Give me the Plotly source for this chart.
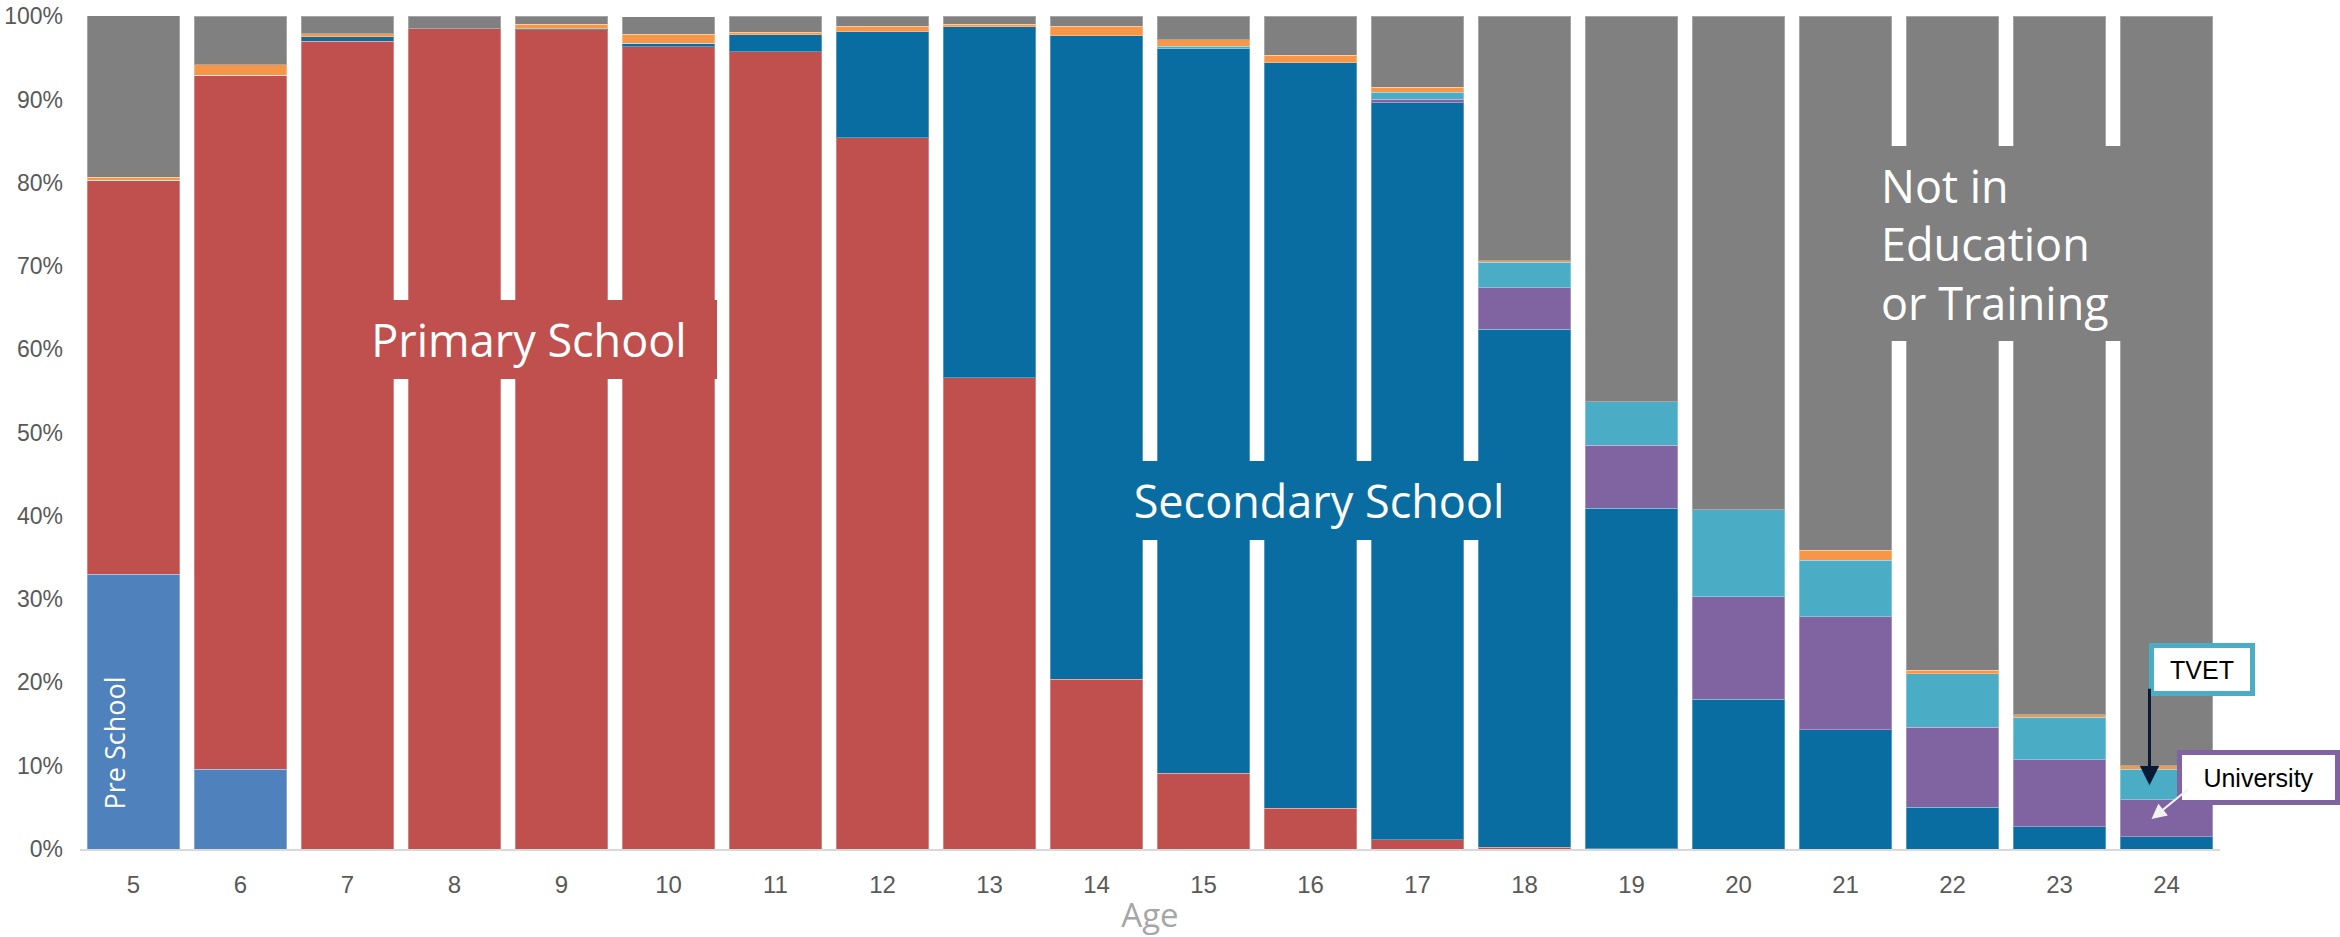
import plotly.graph_objects as go

# Share of each age group by education status (percent of age cohort)
ages = [5, 6, 7, 8, 9, 10, 11, 12, 13, 14, 15, 16, 17, 18, 19, 20, 21, 22, 23, 24]
age_labels = [str(a) for a in ages]
pct_ticks = [0, 10, 20, 30, 40, 50, 60, 70, 80, 90, 100]
pct_labels = [f"{t}%" for t in pct_ticks]

pre_school = [33.0, 9.6, 0, 0, 0, 0, 0, 0, 0, 0, 0, 0, 0, 0, 0, 0, 0, 0, 0, 0]
primary = [47.3, 83.3, 97.0, 98.5, 98.35, 96.3, 95.7, 85.4, 56.6, 20.4,
           9.1, 4.9, 1.1, 0.2, 0.05, 0, 0, 0, 0, 0]
secondary = [0, 0, 0.55, 0, 0.15, 0.45, 2.07, 12.73, 42.1, 77.25,
             87.0, 89.5, 88.5, 62.2, 40.85, 18.0, 14.3, 5.0, 2.67, 1.47]
university = [0, 0, 0, 0, 0, 0, 0, 0, 0, 0,
              0, 0, 0.4, 5.0, 7.6, 12.3, 13.6, 9.6, 8.03, 4.43]
tvet = [0, 0, 0, 0, 0, 0, 0, 0, 0, 0,
        0.28, 0, 0.84, 3.05, 5.2, 10.45, 6.8, 6.45, 5.1, 3.67]
other = [0.33, 1.27, 0.35, 0, 0.5, 1.1, 0.28, 0.64, 0.32, 1.12,
         0.76, 0.88, 0.64, 0.2, 0, 0, 1.2, 0.4, 0.3, 0.4]
not_in_education = [19.4, 5.8, 2.1, 1.5, 1.0, 2.1, 1.95, 1.23, 0.98, 1.23,
                    2.86, 4.72, 8.52, 29.35, 46.3, 59.25, 64.1, 78.55, 83.9, 90.03]

series = [
    ("Pre School", pre_school, "#4F81BD"),
    ("Primary School", primary, "#C0504D"),
    ("Secondary School", secondary, "#0A6DA1"),
    ("University", university, "#8064A2"),
    ("TVET", tvet, "#4BACC6"),
    ("Other", other, "#F79646"),
    ("Not in Education or Training", not_in_education, "#808080"),
]

fig = go.Figure()
for name, vals, color in series:
    fig.add_trace(go.Bar(
        x=ages, y=vals, name=name,
        marker=dict(color=color, line=dict(color="rgba(255,255,255,0.3)", width=1)),
    ))

label_font = "Open Sans, Noto Sans, sans-serif"
tick_font = "Liberation Sans Narrow, Arial Narrow, Liberation Sans, sans-serif"

annotations = [
    # region labels sitting on the bars
    dict(x=8.70, y=61.2, text="Primary School", showarrow=False,
         width=376, height=79, bgcolor="#C0504D", borderpad=0, borderwidth=0,
         font=dict(family=label_font, size=45, color="white")),
    dict(x=16.08, y=41.8, text="Secondary School", showarrow=False,
         width=460, height=79, bgcolor="#0A6DA1", borderpad=0, borderwidth=0,
         font=dict(family=label_font, size=45, color="white")),
    dict(x=21.33, y=72.7, text="Not in<br>Education<br>or Training", showarrow=False,
         width=272, height=195, bgcolor="#808080", borderpad=0, borderwidth=0,
         align="left", xanchor="left",
         font=dict(family=label_font, size=45, color="white")),
    dict(x=4.82, y=12.7, text="Pre School", showarrow=False, textangle=-90,
         font=dict(family=label_font, size=27, color="white")),
    # callouts for the small segments in the oldest age group
    dict(x=0.9916, y=21.6, xref="paper", xanchor="center", text="TVET", showarrow=False,
         width=96, height=43, bgcolor="white", bordercolor="#4BACC6",
         borderwidth=5, borderpad=0,
         font=dict(family=tick_font, size=25, color="black")),
    dict(x=1.018, y=8.55, xref="paper", xanchor="center", text="University", showarrow=False,
         width=153, height=45, bgcolor="white", bordercolor="#8064A2",
         borderwidth=5, borderpad=0,
         font=dict(family=tick_font, size=25, color="black")),
    dict(x=23.841, y=7.66, text="", showarrow=True, ax=0, ay=-98,
         arrowhead=2, arrowsize=1.3, arrowwidth=3, arrowcolor="#0B1A33", standoff=0),
    dict(x=23.86, y=3.59, text="", showarrow=True, ax=38, ay=-31,
         arrowhead=2, arrowsize=1.5, arrowwidth=2, arrowcolor="#F2F2F2", standoff=0),
]
for a in annotations:
    a.setdefault("xref", "x")
    a.setdefault("yref", "y")

fig.update_layout(
    barmode="stack",
    bargap=0.14,
    width=2340, height=937,
    margin=dict(l=80, r=120, t=16, b=88),
    paper_bgcolor="white",
    plot_bgcolor="white",
    showlegend=False,
    annotations=annotations,
    xaxis=dict(
        range=[4.5, 24.5], tickmode="array", tickvals=ages, ticktext=age_labels,
        showgrid=False, zeroline=False, showline=True, linecolor="#D9D9D9", linewidth=2,
        ticks="", ticklabelstandoff=13, automargin=False,
        tickfont=dict(family=tick_font, size=24, color="#595959"),
        title=dict(text="Age", standoff=15,
                   font=dict(family=label_font, size=33, color="#A6A6A6")),
    ),
    yaxis=dict(
        range=[0, 100.02], tickmode="array", tickvals=pct_ticks, ticktext=pct_labels,
        showgrid=False, zeroline=False, showline=False, ticks="",
        ticklabelstandoff=16, automargin=False, ticklabeloverflow="allow",
        tickfont=dict(family=tick_font, size=23, color="#595959"),
    ),
)

fig.write_html("out.html")
